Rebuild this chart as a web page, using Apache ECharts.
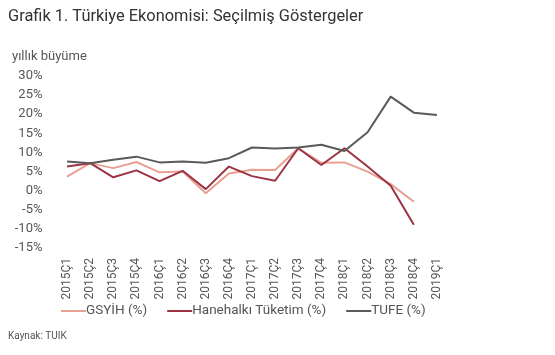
<!DOCTYPE html>
<html>
<head>
<meta charset="utf-8">
<script src="https://cdn.jsdelivr.net/npm/echarts@6/dist/echarts.min.js"></script>
<style>html,body{margin:0;padding:0;background:#fff}#c{width:555px;height:355px}</style>
</head>
<body>
<div id="c"></div>
<script>
const categories = ['2015Ç1','2015Ç2','2015Ç3','2015Ç4','2016Ç1','2016Ç2','2016Ç3','2016Ç4','2017Ç1','2017Ç2','2017Ç3','2017Ç4','2018Ç1','2018Ç2','2018Ç3','2018Ç4','2019Ç1'];
const gsyih = [3.7, 7.2, 5.9, 7.5, 4.8, 5.0, -0.7, 4.5, 5.5, 5.4, 11.1, 7.3, 7.4, 5.0, 1.7, -2.9, null];
const hanehalki = [6.3, 7.2, 3.5, 5.3, 2.5, 5.2, 0.4, 6.3, 3.8, 2.6, 11.1, 6.7, 11.1, 6.3, 1.3, -8.9, null];
const tufe = [7.6, 7.2, 8.1, 8.9, 7.4, 7.6, 7.3, 8.5, 11.3, 11.0, 11.3, 12.0, 10.4, 15.3, 24.6, 20.4, 19.8];
const yTicks = {min: -15, max: 30, step: 5};

const font = 'Roboto, "Noto Sans", sans-serif';
const chart = echarts.init(document.getElementById('c'), null, {renderer: 'canvas'});
chart.setOption({
  animation: false,
  backgroundColor: '#fff',
  graphic: [
    {type: 'text', left: 8, top: 9, style: {text: 'Grafik 1. Türkiye Ekonomisi: Seçilmiş Göstergeler', font: '16.4px ' + font, fill: '#333'}},
    {type: 'text', left: 12, top: 50, style: {text: 'yıllık büyüme', font: '13px ' + font, fill: '#555'}},
    {type: 'text', left: 8, top: 331, style: {text: 'Kaynak: TUIK', font: '10px ' + font, fill: '#555'}}
  ],
  legend: {
    bottom: 32, left: 56,
    itemWidth: 25, itemHeight: 2, itemGap: 20,
    icon: 'rect',
    textStyle: {fontFamily: font, fontSize: 13.5, color: '#555', padding: [0, 0, 0, -5]},
    data: ['GSYİH (%)', 'Hanehalkı Tüketim (%)', 'TUFE (%)']
  },
  grid: {left: 55.5, right: 106.5, top: 76, bottom: 107},
  xAxis: {
    type: 'category', data: categories, boundaryGap: true,
    axisLine: {show: false}, axisTick: {show: false},
    axisLabel: {rotate: 90, interval: 0, margin: 10, fontFamily: font, fontSize: 12, color: '#555'}
  },
  yAxis: {
    type: 'value', min: yTicks.min, max: yTicks.max, interval: yTicks.step,
    axisLine: {show: false}, axisTick: {show: false}, splitLine: {show: false},
    axisLabel: {formatter: '{value}%', margin: 13, fontFamily: font, fontSize: 13, color: '#555'}
  },
  series: [
    {name: 'GSYİH (%)', type: 'line', data: gsyih, showSymbol: false, symbol: 'none', lineStyle: {width: 2, color: '#E9A092'}, itemStyle: {color: '#E9A092'}},
    {name: 'Hanehalkı Tüketim (%)', type: 'line', data: hanehalki, showSymbol: false, symbol: 'none', lineStyle: {width: 2, color: '#9B3444'}, itemStyle: {color: '#9B3444'}},
    {name: 'TUFE (%)', type: 'line', data: tufe, showSymbol: false, symbol: 'none', lineStyle: {width: 2, color: '#5A5A5A'}, itemStyle: {color: '#5A5A5A'}}
  ]
});
</script>
</body>
</html>
